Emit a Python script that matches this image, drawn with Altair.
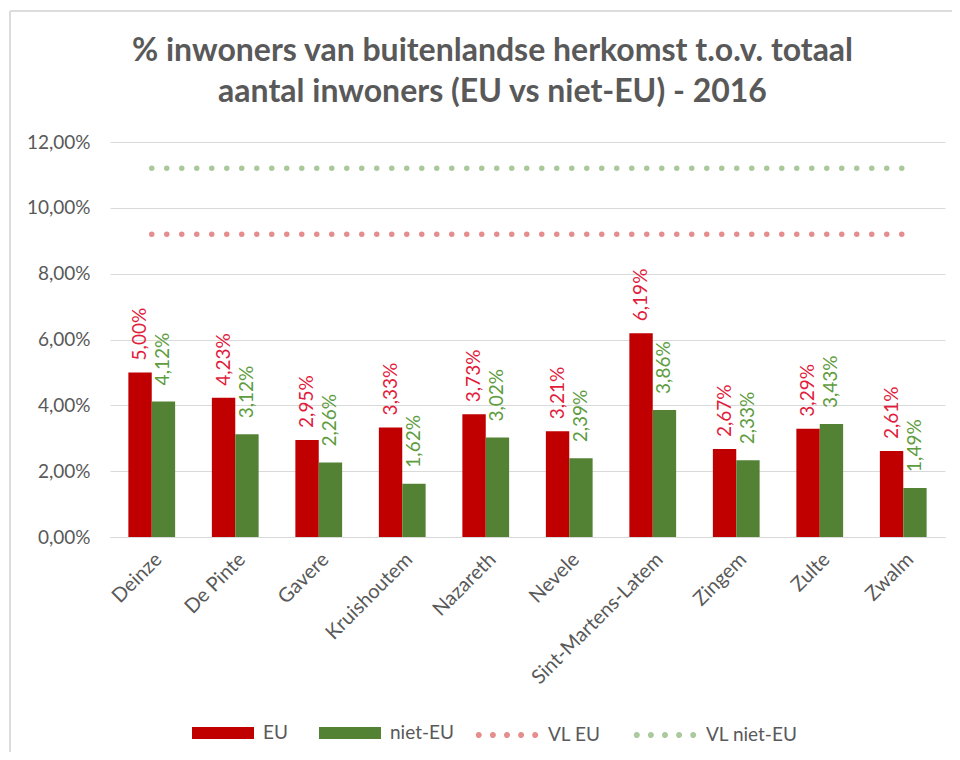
import altair as alt
import pandas as pd

categories = ["Deinze", "De Pinte", "Gavere", "Kruishoutem", "Nazareth", "Nevele",
              "Sint-Martens-Latem", "Zingem", "Zulte", "Zwalm"]
eu = [0.0500, 0.0423, 0.0295, 0.0333, 0.0373, 0.0321, 0.0619, 0.0267, 0.0329, 0.0261]
niet_eu = [0.0412, 0.0312, 0.0226, 0.0162, 0.0302, 0.0239, 0.0386, 0.0233, 0.0343, 0.0149]
vl_eu = 0.092
vl_niet_eu = 0.112
bar_series = ["EU", "niet-EU"]
bar_colors = ["#C00000", "#548235"]
line_series = ["VL EU", "VL niet-EU"]
line_colors = ["#E58C8C", "#A9C99B"]
label_colors = ["#E21C3C", "#5E9C3E"]
y_ticks = [0, 0.02, 0.04, 0.06, 0.08, 0.10, 0.12]
title_lines = ["% inwoners van buitenlandse herkomst t.o.v. totaal",
               "aantal inwoners (EU vs niet-EU) - 2016"]

FONT = "Lato"
GREY = "#595959"
n = len(categories)

bars_df = pd.DataFrame({
    "gemeente": categories * 2,
    "reeks": [bar_series[0]] * n + [bar_series[1]] * n,
    "waarde": eu + niet_eu,
})
lines_df = pd.DataFrame({
    "gemeente": categories * 2,
    "lijn": [line_series[0]] * n + [line_series[1]] * n,
    "waarde": [vl_eu] * n + [vl_niet_eu] * n,
})

RECT = "M-1,-0.19H1V0.19H-1Z"
R = 0.045
DOTS = "".join(
    f"M{cx - R:.3f},0A{R},{R},0,1,0,{cx + R:.3f},0A{R},{R},0,1,0,{cx - R:.3f},0Z"
    for cx in [-0.91, -0.455, 0.0, 0.455, 0.91]
)

x_enc = alt.X(
    "gemeente:N", sort=categories, title=None,
    scale=alt.Scale(paddingInner=0.44, paddingOuter=0.22),
    axis=alt.Axis(labelAngle=-45, labelFontSize=20, labelFont=FONT, labelColor=GREY,
                  ticks=False, domainColor="#D9D9D9", labelPadding=12, grid=False),
)
y_enc = alt.Y(
    "waarde:Q", title=None,
    scale=alt.Scale(domain=[0, 0.12]),
    axis=alt.Axis(values=y_ticks, labelExpr="replace(format(datum.value, '.2%'), '.', ',')",
                  labelFontSize=19, labelFont=FONT, labelColor=GREY, ticks=False,
                  domain=False, gridColor="#D9D9D9", labelPadding=20),
)
fill_enc = alt.Fill(
    "reeks:N",
    scale=alt.Scale(domain=bar_series, range=bar_colors),
    legend=alt.Legend(
        title=None, orient="none", legendX=82, legendY=560, direction="horizontal",
        symbolType=RECT, symbolSize=3844, symbolStrokeWidth=0, symbolOpacity=1,
        labelFontSize=19, labelFont=FONT, labelColor=GREY, labelOffset=9, columnPadding=31,
    ),
)
stroke_enc = alt.Stroke(
    "lijn:N",
    scale=alt.Scale(domain=line_series, range=line_colors),
    legend=alt.Legend(
        title=None, orient="none", legendX=364, legendY=560, direction="horizontal",
        symbolType=DOTS, symbolSize=3844, symbolStrokeWidth=3.2, symbolOpacity=1,
        symbolDash=[1, 0], symbolFillColor="transparent",
        labelFontSize=19, labelFont=FONT, labelColor=GREY, labelOffset=8, columnPadding=27,
    ),
)
xoff = alt.XOffset("reeks:N", scale=alt.Scale(domain=bar_series))

bars = alt.Chart(bars_df).mark_bar().encode(x=x_enc, y=y_enc, xOffset=xoff, fill=fill_enc)


def label_layer(series, color, gap):
    return alt.Chart(bars_df).transform_filter(
        alt.datum.reeks == series
    ).transform_calculate(
        lab="replace(format(datum.waarde, '.2%'), '.', ',')"
    ).mark_text(
        angle=270, align="left", baseline="middle", dx=gap, fontSize=19, font=FONT, color=color
    ).encode(x=x_enc, y=y_enc, xOffset=xoff, text="lab:N")


labels_eu = label_layer(bar_series[0], label_colors[0], 12)
labels_neu = label_layer(bar_series[1], label_colors[1], 16)

# dotted reference lines; dash and width given as encoded values so the legend keeps its dots
lines = alt.Chart(lines_df).mark_line(strokeCap="round").encode(
    x=x_enc, y=y_enc, stroke=stroke_enc, detail="lijn:N",
    strokeDash=alt.value([0, 15]),
    strokeWidth=alt.value(5.5),
)

# light grey frame at the top-left edge, as in the original screenshot
frame_v = alt.Chart(lines_df).mark_rule(color="#DCDCDC", strokeWidth=2).encode(
    x=alt.value(-100), y=alt.value(-131), y2=alt.value(620)
)
frame_h = alt.Chart(lines_df).mark_rule(color="#DCDCDC", strokeWidth=2).encode(
    x=alt.value(-100), x2=alt.value(860), y=alt.value(-131)
)

chart = alt.layer(frame_v, frame_h, lines, bars, labels_eu, labels_neu).properties(
    width=835, height=395,
    autosize=alt.AutoSizeParams(type="none"),
    padding={"left": 102, "top": 134, "right": 7, "bottom": 215},
    title=alt.TitleParams(
        text=title_lines, fontSize=32, font=FONT, fontWeight="bold", color=GREY,
        anchor="middle", lineHeight=41, offset=-99, dx=-35,
    ),
).configure(
    background="white",
    view=alt.ViewConfig(stroke=None),
)

chart.save("out.html", embed_options={"renderer": "svg", "actions": False})
